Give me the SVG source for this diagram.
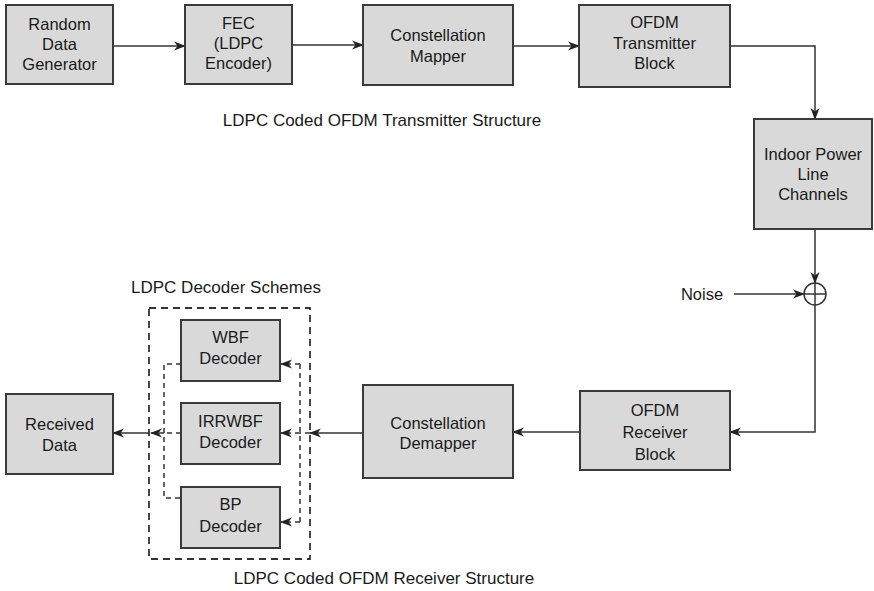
<svg xmlns="http://www.w3.org/2000/svg" width="874" height="591" viewBox="0 0 874 591">
<style>
.box{fill:#d9d9d9;stroke:#3a3a3a;stroke-width:2}
.t{font-family:"Liberation Sans",Arial,sans-serif;font-size:16.5px;fill:#1a1a1a;text-anchor:middle}
.l{font-family:"Liberation Sans",Arial,sans-serif;font-size:17px;fill:#1a1a1a;text-anchor:middle}
.c{fill:none;stroke:#333;stroke-width:1.5}
.d{fill:none;stroke:#333;stroke-width:1.5;stroke-dasharray:5 4}
.db{fill:none;stroke:#333;stroke-width:1.8;stroke-dasharray:7 5}
</style>
<defs>
<marker id="a" viewBox="0 0 12 10" refX="11" refY="5" markerWidth="12" markerHeight="10" markerUnits="userSpaceOnUse" orient="auto">
<path d="M0,0.5 L12,5 L0,9.5 L3.5,5 z" fill="#222"/>
</marker>
</defs>
<rect width="874" height="591" fill="#fff"/>
<g id="connectors">
<line class="c" x1="113" y1="46" x2="185" y2="46" marker-end="url(#a)"/>
<line class="c" x1="292" y1="45" x2="363" y2="45" marker-end="url(#a)"/>
<line class="c" x1="513" y1="46" x2="579" y2="46" marker-end="url(#a)"/>
<polyline class="c" points="730,46 815,46 815,119" marker-end="url(#a)"/>
<line class="c" x1="815" y1="229" x2="815" y2="283" marker-end="url(#a)"/>
<line class="c" x1="734" y1="294" x2="804" y2="294" marker-end="url(#a)"/>
<polyline class="c" points="815,305 815,432 730,432" marker-end="url(#a)"/>
<line class="c" x1="580" y1="432" x2="513" y2="432" marker-end="url(#a)"/>
<line class="c" x1="363" y1="433" x2="310" y2="433" marker-end="url(#a)"/>
<line class="d" x1="310" y1="433" x2="300" y2="433"/>
<polyline class="d" points="300,364 300,522"/>
<line class="d" x1="300" y1="364" x2="281" y2="364" marker-end="url(#a)"/>
<line class="d" x1="300" y1="433" x2="281" y2="433" marker-end="url(#a)"/>
<line class="d" x1="300" y1="522" x2="281" y2="522" marker-end="url(#a)"/>
<polyline class="d" points="181,364 164,364 164,498 181,498"/>
<line class="d" x1="181" y1="433" x2="164" y2="433"/>
<line class="d" x1="164" y1="433" x2="151" y2="433" marker-end="url(#a)"/>
<line class="c" x1="149" y1="433" x2="113" y2="433" marker-end="url(#a)"/>
</g>
<g id="random">
<rect class="box" x="6" y="5" width="107" height="79"/>
<text class="t" x="59.5" y="30">Random</text>
<text class="t" x="59.5" y="50">Data</text>
<text class="t" x="59.5" y="70">Generator</text>
</g>
<g id="fec">
<rect class="box" x="185" y="5" width="107" height="79"/>
<text class="t" x="238.5" y="29">FEC</text>
<text class="t" x="238.5" y="49">(LDPC</text>
<text class="t" x="238.5" y="69">Encoder)</text>
</g>
<g id="mapper">
<rect class="box" x="363" y="5" width="150" height="80"/>
<text class="t" x="438" y="41">Constellation</text>
<text class="t" x="438" y="62">Mapper</text>
</g>
<g id="ofdmtx">
<rect class="box" x="579" y="5" width="151" height="82"/>
<text class="t" x="654.5" y="28">OFDM</text>
<text class="t" x="654.5" y="49">Transmitter</text>
<text class="t" x="654.5" y="69">Block</text>
</g>
<g id="channel">
<rect class="box" x="754" y="119" width="118" height="110"/>
<text class="t" x="813" y="160">Indoor Power</text>
<text class="t" x="813" y="180">Line</text>
<text class="t" x="813" y="200">Channels</text>
</g>
<g id="sum">
<circle cx="815" cy="294" r="11" fill="#fff" stroke="#333" stroke-width="1.5"/>
<line class="c" x1="804" y1="294" x2="826" y2="294"/>
<line class="c" x1="815" y1="283" x2="815" y2="305"/>
</g>
<g id="noise">
<text class="t" x="702" y="300">Noise</text>
</g>
<g id="ofdmrx">
<rect class="box" x="580" y="391" width="150" height="79"/>
<text class="t" x="655" y="416">OFDM</text>
<text class="t" x="655" y="438">Receiver</text>
<text class="t" x="655" y="460">Block</text>
</g>
<g id="demapper">
<rect class="box" x="363" y="385" width="150" height="93"/>
<text class="t" x="438" y="429">Constellation</text>
<text class="t" x="438" y="449">Demapper</text>
</g>
<g id="decoders">
<rect class="db" x="149" y="308" width="161" height="251"/>
</g>
<g id="wbf">
<rect class="box" x="181" y="320" width="99" height="61"/>
<text class="t" x="230.5" y="343">WBF</text>
<text class="t" x="230.5" y="364">Decoder</text>
</g>
<g id="irrwbf">
<rect class="box" x="181" y="403" width="99" height="61"/>
<text class="t" x="230.5" y="427">IRRWBF</text>
<text class="t" x="230.5" y="448">Decoder</text>
</g>
<g id="bp">
<rect class="box" x="181" y="487" width="99" height="61"/>
<text class="t" x="230.5" y="510">BP</text>
<text class="t" x="230.5" y="532">Decoder</text>
</g>
<g id="received">
<rect class="box" x="6" y="394" width="107" height="80"/>
<text class="t" x="59.5" y="430">Received</text>
<text class="t" x="59.5" y="451">Data</text>
</g>
<g id="labels">
<text class="l" x="382" y="126">LDPC Coded OFDM Transmitter Structure</text>
<text class="l" x="226" y="293">LDPC Decoder Schemes</text>
<text class="l" x="384" y="584">LDPC Coded OFDM Receiver Structure</text>
</g>
</svg>
